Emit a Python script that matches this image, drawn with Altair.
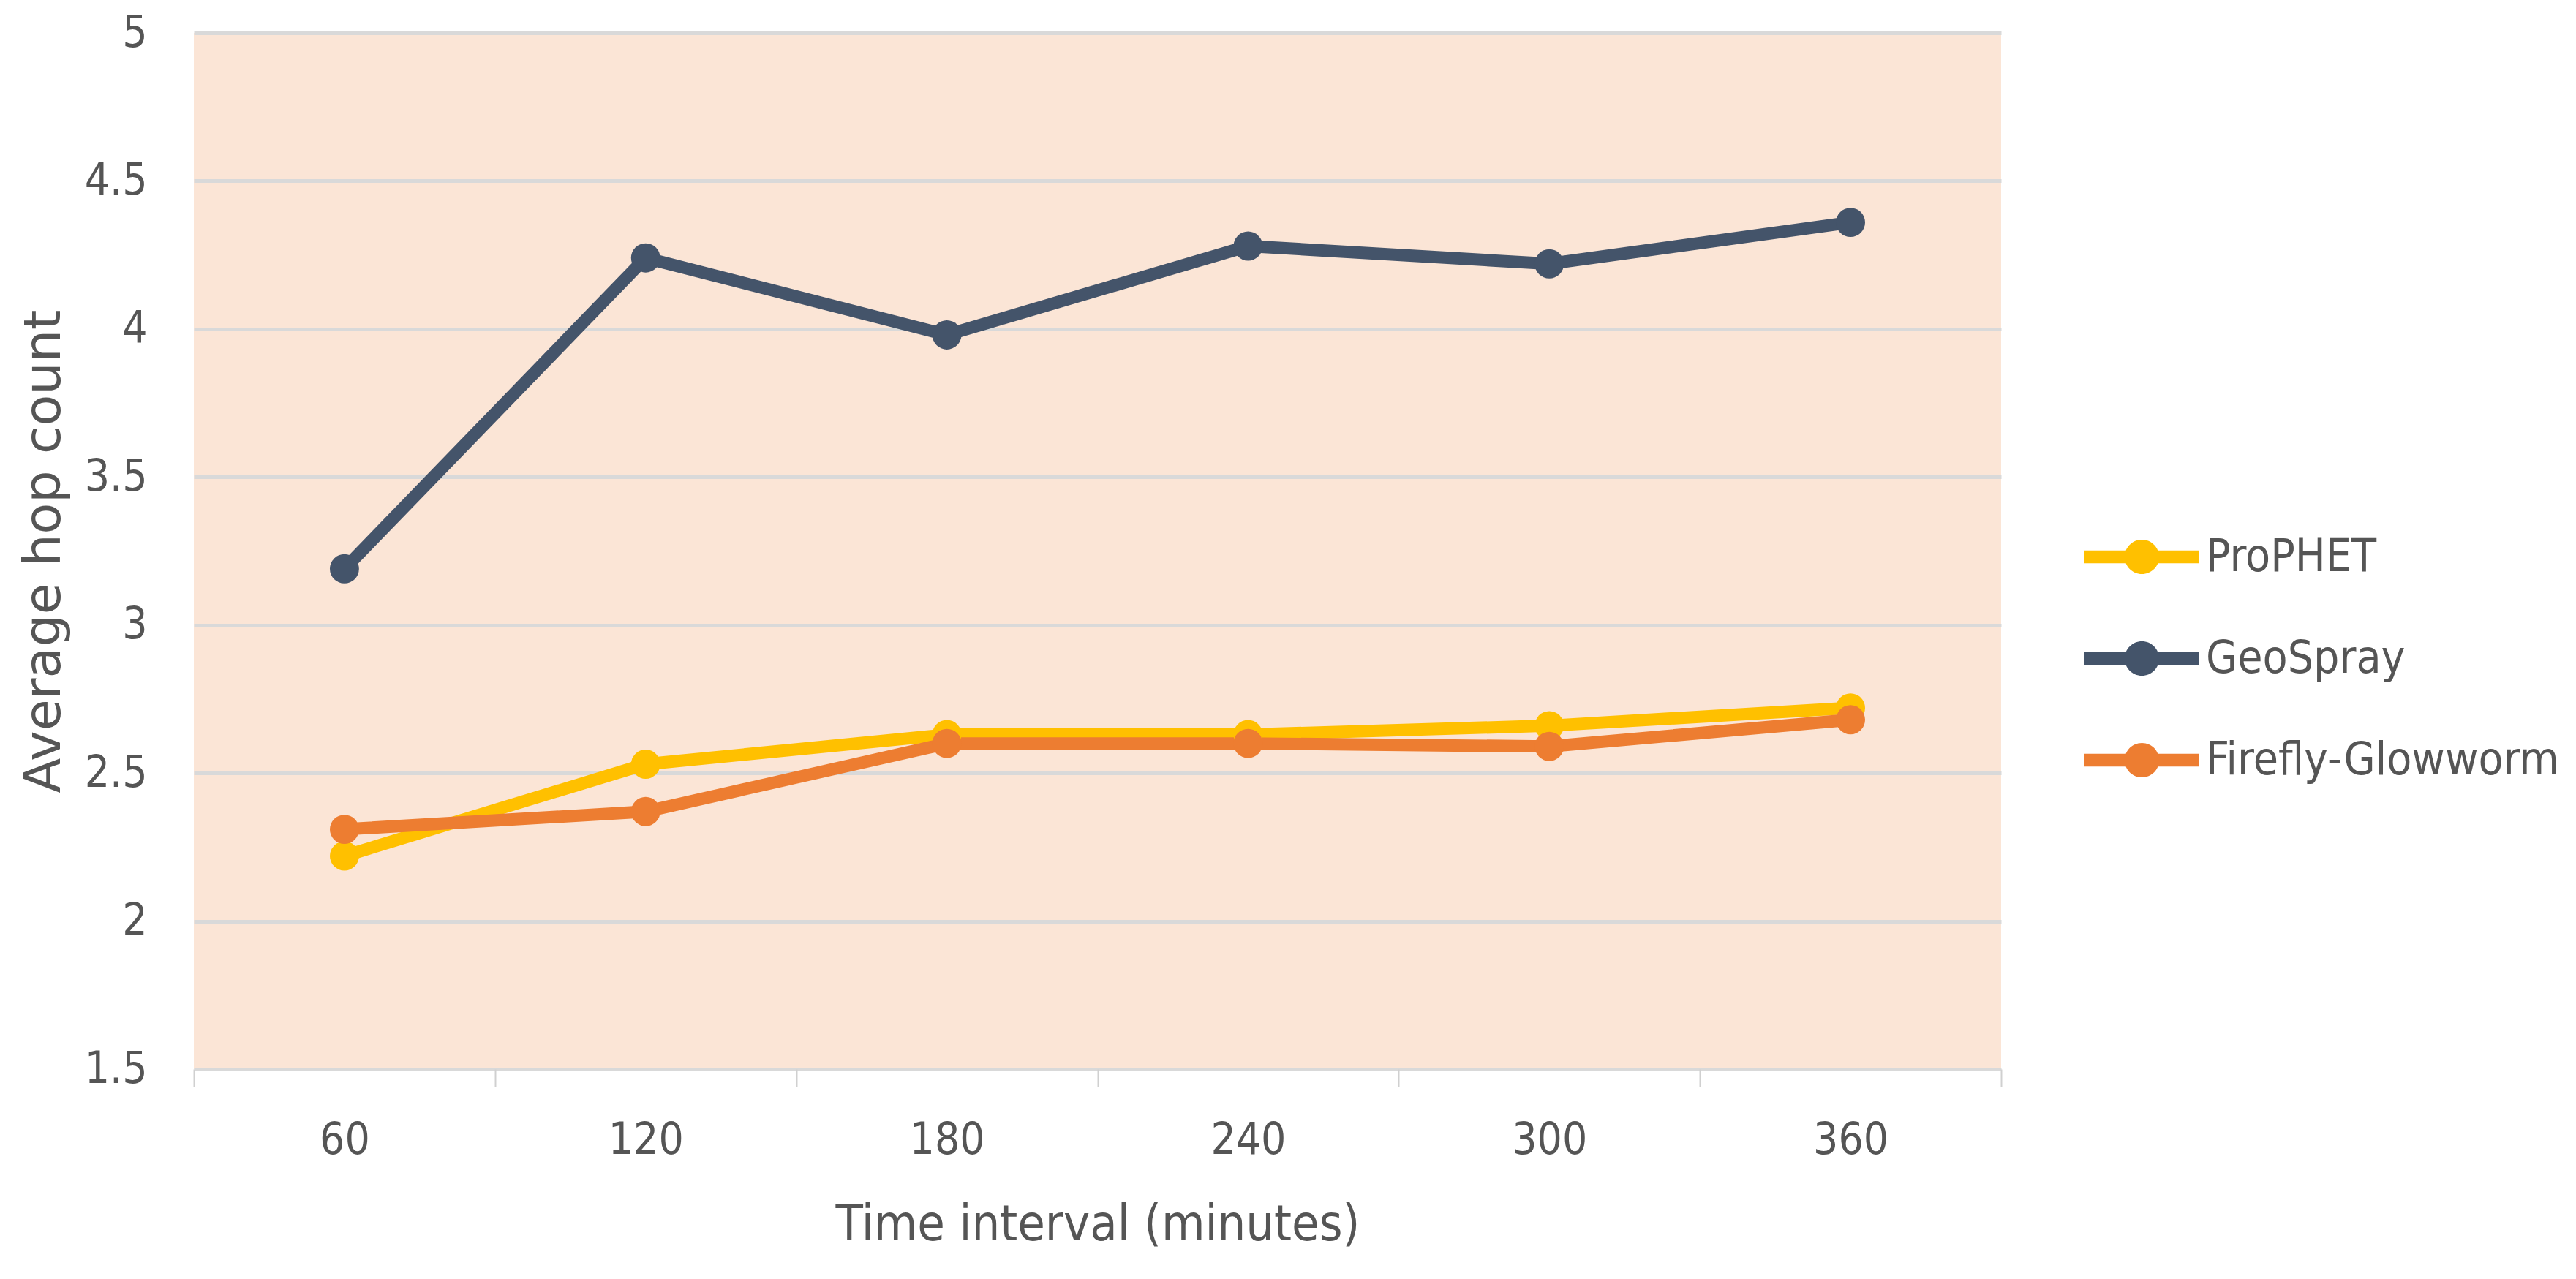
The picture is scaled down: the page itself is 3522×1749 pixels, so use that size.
import altair as alt
import pandas as pd

intervals = ["60", "120", "180", "240", "300", "360"]
series_names = ["ProPHET", "GeoSpray", "Firefly-Glowworm"]
prophet = [2.22, 2.53, 2.63, 2.63, 2.66, 2.72]
geospray = [3.19, 4.24, 3.98, 4.28, 4.22, 4.36]
firefly = [2.31, 2.37, 2.60, 2.60, 2.59, 2.68]
colors = ["#FFC000", "#44546A", "#ED7D31"]
y_ticks = [1.5, 2, 2.5, 3, 3.5, 4, 4.5, 5]

rows = []
for name, vals in zip(series_names, [prophet, geospray, firefly]):
    for t, v in zip(intervals, vals):
        rows.append({"interval": t, "value": v, "series": name})
df = pd.DataFrame(rows)

NARROW = "Liberation Sans Narrow, DejaVu Sans Condensed, sans-serif"
TXT = "#555555"

legend_path = ("M-2,-0.22 L2,-0.22 L2,0.22 L-2,0.22 Z "
               "M-0.6,0 A0.6,0.6 0 1,1 0.6,0 A0.6,0.6 0 1,1 -0.6,0 Z")

x_enc = alt.X("interval:O", sort=intervals,
              scale=alt.Scale(paddingInner=0, paddingOuter=0),
              axis=alt.Axis(title="Time interval (minutes)", labelAngle=0,
                            tickBand="extent", grid=False, domain=False,
                            ticks=True, tickSize=24, tickColor="#D0D0D0",
                            tickWidth=2, labelPadding=44, titlePadding=52,
                            labelFont=NARROW, labelFontSize=60, labelColor=TXT,
                            titleFont=NARROW, titleFontSize=68, titleColor=TXT,
                            titleFontWeight="normal"))
y_enc = alt.Y("value:Q", scale=alt.Scale(domain=[1.5, 5], nice=False, zero=False),
              axis=alt.Axis(title="Average hop count", values=y_ticks, format="~g",
                            domain=False, ticks=False, grid=True,
                            gridColor="#D9D9D9", gridWidth=5, labelPadding=64,
                            titlePadding=19,
                            labelFont=NARROW, labelFontSize=60, labelColor=TXT,
                            titleFont="DejaVu Sans", titleFontSize=70,
                            titleColor=TXT, titleFontWeight="normal"))
color_enc = alt.Color("series:N", sort=series_names,
                      scale=alt.Scale(domain=series_names, range=colors),
                      legend=alt.Legend(title=None, orient="none",
                                        legendX=2624, legendY=677,
                                        symbolType=legend_path, symbolSize=6162,
                                        symbolStrokeWidth=0, labelLimit=2000,
                                        labelFont=NARROW, labelFontSize=62,
                                        labelColor=TXT, labelOffset=48,
                                        rowPadding=68, padding=0))

points = alt.Chart(df).mark_point(filled=True, size=1590, opacity=1).encode(
    x=x_enc, y=y_enc, color=color_enc)
lines = alt.Chart(df).mark_line(strokeWidth=17).encode(
    x=x_enc, y=y_enc, color=color_enc, detail="series:N")

chart = alt.layer(lines, points).properties(
    width=2471, height=1417, background="white",
    padding={"left": 17, "top": 7, "right": 5, "bottom": 5},
).configure_view(fill="#FBE5D6", stroke=None)

chart.save("out.html", embed_options={"renderer": "svg", "actions": False})
